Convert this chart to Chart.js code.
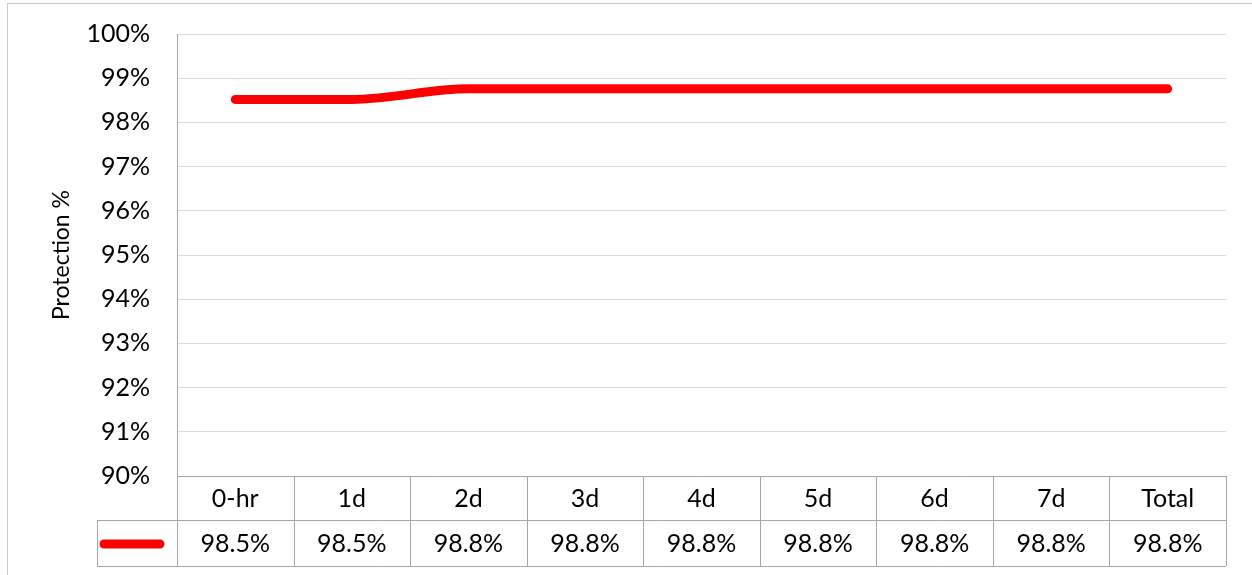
<!DOCTYPE html>
<html lang="en">
<head>
    <meta charset="UTF-8">
    <title>Protection %</title>
    <script src="https://cdn.jsdelivr.net/npm/chart.js"></script>
    <style>
        html, body { margin: 0; padding: 0; background: #fff; }
        #wrap { width: 1252px; height: 575px; }
    </style>
</head>
<body>
    <div id="wrap"><canvas id="protChart" width="1252" height="575"></canvas></div>

    <script>
        // data
        const categories = ["0-hr", "1d", "2d", "3d", "4d", "5d", "6d", "7d", "Total"];
        const protection = [98.52, 98.52, 98.76, 98.76, 98.76, 98.76, 98.76, 98.76, 98.76];
        const yTicks = [90, 91, 92, 93, 94, 95, 96, 97, 98, 99, 100];

        const FONT = "Lato, 'Liberation Sans', sans-serif";
        const tableLine = "#a6a6a6";

        // draws the outer frame and the data table under the plot
        const dataTable = {
            id: "dataTable",
            beforeDraw(chart) {
                const ctx = chart.ctx;
                ctx.save();
                ctx.strokeStyle = "#c8c8c8";
                ctx.lineWidth = 1;
                ctx.strokeRect(7.5, 3.5, 1300, 700);
                ctx.restore();
            },
            afterDraw(chart) {
                const ctx = chart.ctx;
                const x = chart.scales.x;
                const area = chart.chartArea;
                const n = categories.length;
                const cw = (area.right - area.left) / n;
                const row1 = area.bottom;
                const row2 = row1 + 44;
                const row3 = row2 + 46;
                const keyLeft = 97;

                ctx.save();
                ctx.strokeStyle = tableLine;
                ctx.lineWidth = 1;
                ctx.beginPath();
                // horizontal lines
                ctx.moveTo(area.left, row1 + 0.5); ctx.lineTo(area.right, row1 + 0.5);
                ctx.moveTo(keyLeft, row2 + 0.5); ctx.lineTo(area.right, row2 + 0.5);
                ctx.moveTo(keyLeft, row3 + 0.5); ctx.lineTo(area.right, row3 + 0.5);
                // vertical lines
                for (let i = 0; i <= n; i++) {
                    const px = Math.round(area.left + i * cw) + 0.5;
                    ctx.moveTo(px, row1); ctx.lineTo(px, row3);
                }
                ctx.moveTo(keyLeft + 0.5, row2); ctx.lineTo(keyLeft + 0.5, row3);
                ctx.stroke();

                // legend key
                ctx.strokeStyle = "#ff0000";
                ctx.lineWidth = 9;
                ctx.lineCap = "round";
                ctx.beginPath();
                ctx.moveTo(keyLeft + 7, (row2 + row3) / 2 + 1);
                ctx.lineTo(area.left - 17, (row2 + row3) / 2 + 1);
                ctx.stroke();

                // texts
                ctx.fillStyle = "#000";
                ctx.font = "25px " + FONT;
                ctx.textAlign = "center";
                ctx.textBaseline = "middle";
                categories.forEach((c, i) => {
                    const cx = x.getPixelForValue(i);
                    ctx.fillText(c, cx, (row1 + row2) / 2 + 1);
                    ctx.fillText(protection[i].toFixed(1) + "%", cx, (row2 + row3) / 2 + 1);
                });
                ctx.restore();
            }
        };

        const ctx = document.getElementById("protChart").getContext("2d");
        new Chart(ctx, {
            type: "line",
            data: {
                labels: categories,
                datasets: [{
                    label: "Protection",
                    data: protection,
                    borderColor: "#ff0000",
                    borderWidth: 9,
                    borderCapStyle: "round",
                    borderJoinStyle: "round",
                    pointRadius: 0,
                    fill: false,
                    cubicInterpolationMode: "monotone",
                }],
            },
            options: {
                responsive: false,
                animation: false,
                layout: { padding: { left: 0, top: 34, right: 26, bottom: 99 } },
                plugins: { legend: { display: false }, tooltip: { enabled: false } },
                scales: {
                    x: {
                        display: false,
                        offset: true,
                    },
                    y: {
                        min: 90,
                        max: 100,
                        afterFit(s) { s.width = 177; s.paddingTop = 0; s.paddingBottom = 0; },
                        afterBuildTicks(s) { s.ticks = yTicks.map(v => ({ value: v })); },
                        grid: { color: "#d9d9d9", drawTicks: false },
                        border: { color: tableLine },
                        ticks: {
                            padding: 27,
                            color: "#000",
                            font: { family: FONT, size: 25 },
                            callback: v => v + "%",
                        },
                        title: {
                            display: true,
                            text: "Protection %",
                            color: "#000",
                            font: { family: FONT, size: 23 },
                            padding: { top: 48, bottom: 0 },
                        },
                    },
                },
            },
            plugins: [dataTable],
        });
    </script>
</body>
</html>
